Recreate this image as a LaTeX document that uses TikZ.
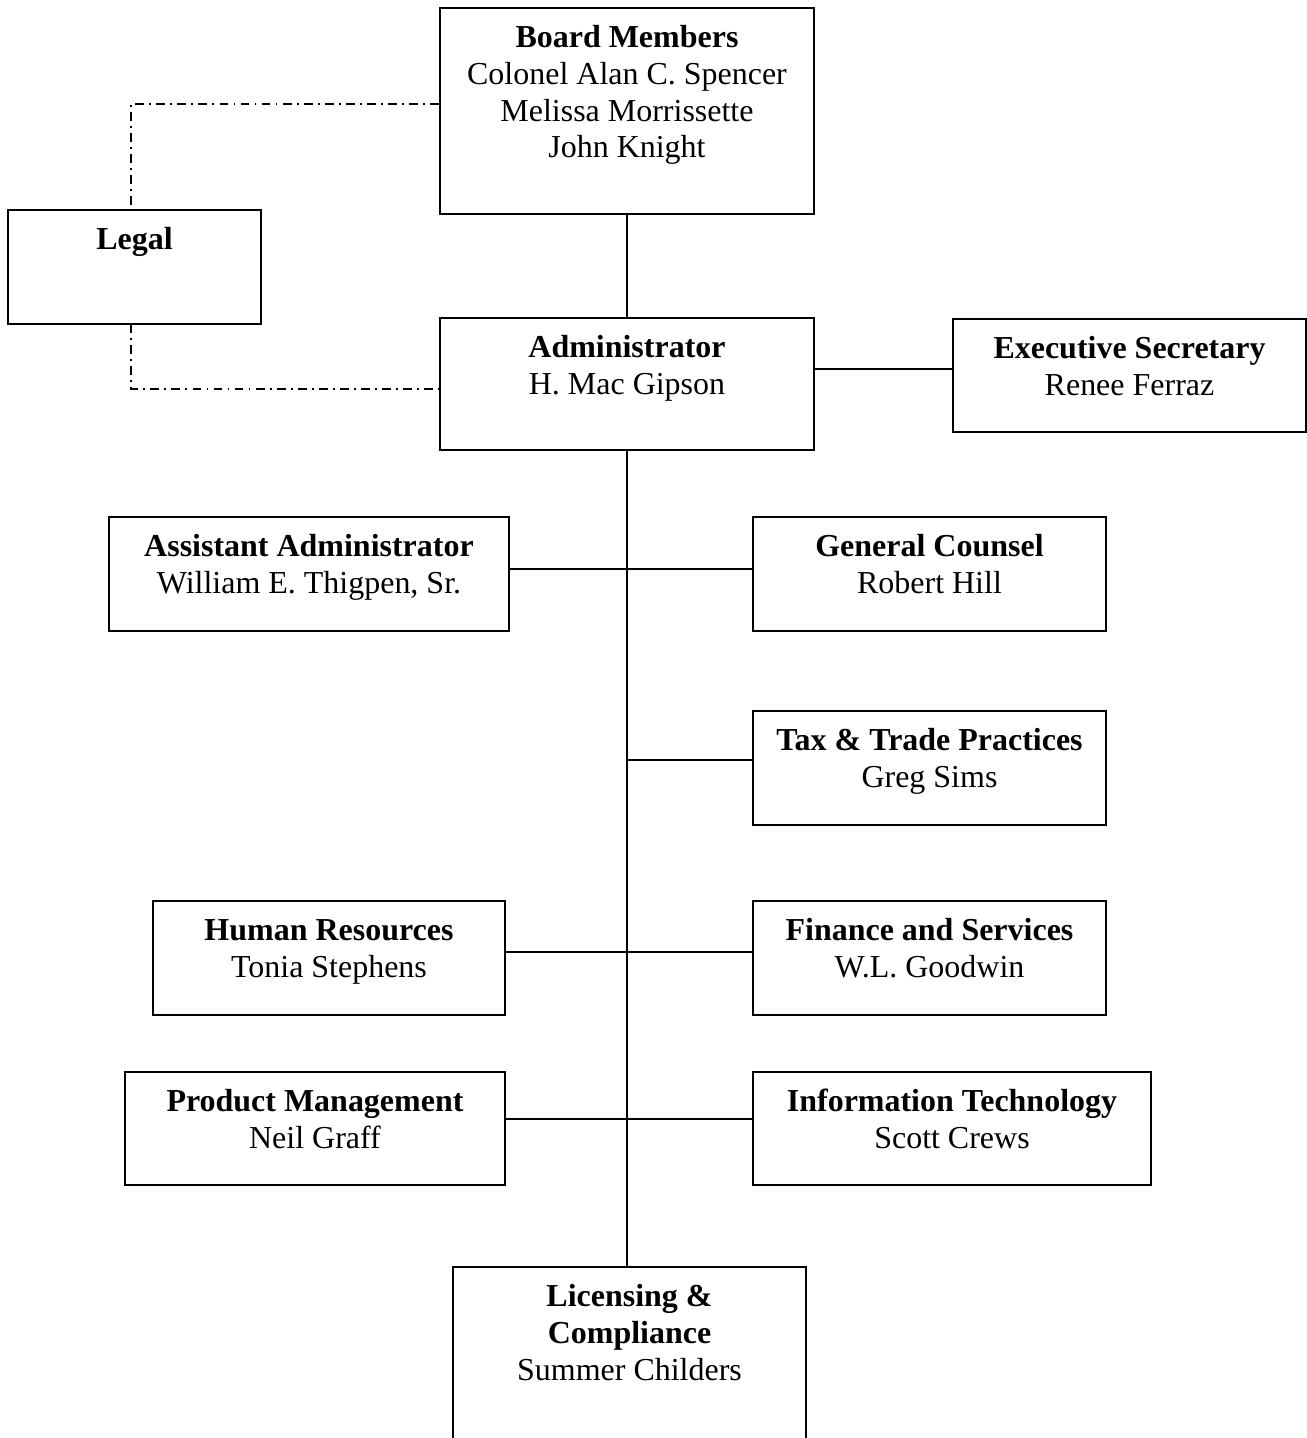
\documentclass[tikz,border=0pt]{standalone}
\usepackage{fontspec}
\setmainfont{Liberation Serif}
\usetikzlibrary{fit}
\tikzset{
	orgbox/.style={draw, line width=1pt, inner sep=0pt},
	orgtext/.style={align=center, inner sep=0pt, font=\fontsize{18.2}{21}\selectfont},
	link/.style={line width=1pt},
	legallink/.style={line width=0.9pt, dash pattern=on 5pt off 3pt on 1pt off 3pt}
}
\newcommand{\OrgBox}[6]{
	\node[orgbox, fit={(#2,#3) (#4,#5)}] (#1) {};
	\node[orgtext, anchor=north] (#1-text) at ([yshift=-0.28cm]#1.north) {\strut #6};
}
\begin{document}
\begin{tikzpicture}[x=0.02cm, y=-0.02cm]
		\useasboundingbox (0,0) rectangle (1307,1438);
		\OrgBox{board}{440}{8}{814}{214}{\textbf{Board Members}\\Colonel Alan C. Spencer\\Melissa Morrissette\\John Knight}
		\OrgBox{legal}{8}{210}{261}{324}{\textbf{Legal}}
		\OrgBox{admin}{440}{318}{814}{450}{\textbf{Administrator}\\H. Mac Gipson}
		\OrgBox{exec}{953}{319}{1306}{432}{\textbf{Executive Secretary}\\Renee Ferraz}
		\OrgBox{asst}{109}{517}{509}{631}{\textbf{Assistant Administrator}\\William E. Thigpen, Sr.}
		\OrgBox{counsel}{753}{517}{1106}{631}{\textbf{General Counsel}\\Robert Hill}
		\OrgBox{tax}{753}{711}{1106}{825}{\textbf{Tax \& Trade Practices}\\Greg Sims}
		\OrgBox{hr}{153}{901}{505}{1015}{\textbf{Human Resources}\\Tonia Stephens}
		\OrgBox{finance}{753}{901}{1106}{1015}{\textbf{Finance and Services}\\W.L. Goodwin}
		\OrgBox{product}{125}{1072}{505}{1185}{\textbf{Product Management}\\Neil Graff}
		\OrgBox{it}{753}{1072}{1151}{1185}{\textbf{Information Technology}\\Scott Crews}
		\OrgBox{licensing}{453}{1267}{806}{1460}{\textbf{Licensing \&}\\\textbf{Compliance}\\Summer Childers}
		% junctions on the main line
		\coordinate (jExec) at (627,369);
		\coordinate (jAsst) at (627,569);
		\coordinate (jTax) at (627,760);
		\coordinate (jHr) at (627,952);
		\coordinate (jProd) at (627,1119);
		\coordinate (lglTop) at (131,210);
		\coordinate (lglBot) at (131,324);
		\draw[link] (board) -- (admin);
		\draw[link] (admin.south) -- (admin.south |- licensing.north);
		\draw[link] (admin.east |- jExec) -- (exec.west |- jExec);
		\draw[link] (asst.east |- jAsst) -- (counsel.west |- jAsst);
		\draw[link] (jTax) -- (tax.west |- jTax);
		\draw[link] (hr.east |- jHr) -- (finance.west |- jHr);
		\draw[link] (product.east |- jProd) -- (it.west |- jProd);
		% legal ties
		\draw[legallink] ([yshift=0.14cm]board.west) -| (lglTop);
		\draw[legallink] (lglBot) |- (admin.west |- 0,389);
	\end{tikzpicture}
\end{document}
